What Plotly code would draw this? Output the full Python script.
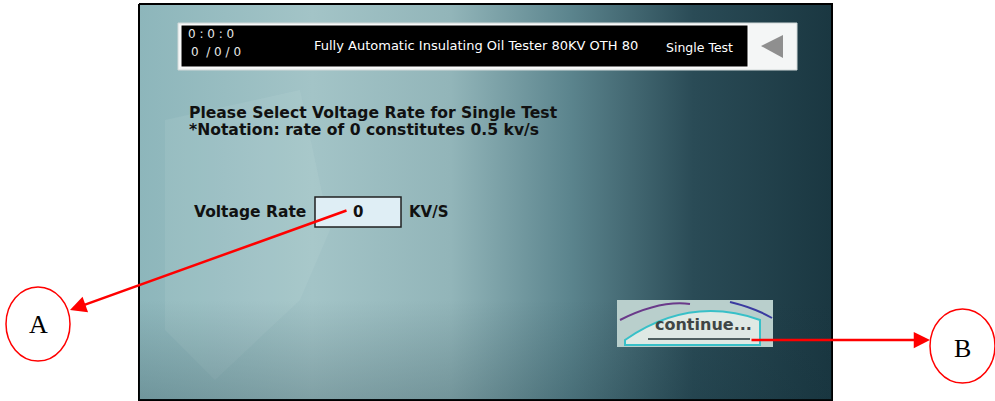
import plotly.graph_objects as go

# ---- content ----
header_left = ["0 : 0 : 0", "0  / 0 / 0"]
header_title = "Fully Automatic Insulating Oil Tester 80KV OTH 80"
header_mode = "Single Test"
prompt_lines = ["Please Select Voltage Rate for Single Test",
                "*Notation: rate of 0 constitutes 0.5 kv/s"]
field_label = "Voltage Rate"
field_value = "0"
field_unit = "KV/S"
button_text = "continue..."
callouts = ["A", "B"]

W, H = 995, 401
fig = go.Figure()

# screen background with horizontal gradient
fig.add_trace(go.Scatter(
    x=[139, 832, 832, 139, 139], y=[4, 4, 400, 400, 4],
    mode="lines", fill="toself", line=dict(color="black", width=2),
    fillgradient=dict(type="horizontal",
                      colorscale=[[0, "#8db6bb"], [0.25, "#a3c4c7"], [0.45, "#92b5b9"],
                                  [0.62, "#5c858e"], [0.8, "#2a4b56"], [1, "#1a3741"]]),
    hoverinfo="skip", showlegend=False))
# lighter wedge on the left
fig.add_trace(go.Scatter(
    x=[165, 300, 330, 300, 215, 165, 165], y=[120, 90, 230, 300, 380, 330, 120],
    mode="lines", fill="toself", line=dict(width=0),
    fillcolor="rgba(220,235,235,0.10)", hoverinfo="skip", showlegend=False))
# dark bottom shading
fig.add_trace(go.Scatter(
    x=[139, 832, 832, 139, 139], y=[300, 300, 400, 400, 300],
    mode="lines", fill="toself", line=dict(width=0),
    fillgradient=dict(type="vertical",
                      colorscale=[[0, "rgba(20,50,60,0.25)"], [1, "rgba(20,50,60,0)"]]),
    hoverinfo="skip", showlegend=False))

shapes = []
# header frame
shapes.append(dict(type="rect", x0=178, y0=23, x1=797, y1=70, fillcolor="#f4f6f6",
                   line=dict(color="#d0d8d8", width=1)))
shapes.append(dict(type="rect", x0=181, y0=25, x1=748, y1=67, fillcolor="black",
                   line=dict(color="white", width=1)))
# back triangle
shapes.append(dict(type="path", path="M 761 46 L 783 35 L 783 58 Z",
                   fillcolor="#8f8f8f", line=dict(width=0)))
# input field
shapes.append(dict(type="rect", x0=315, y0=197, x1=401, y1=227, fillcolor="#dfeef5",
                   line=dict(color="#202020", width=1.5)))
# continue button
shapes.append(dict(type="rect", x0=617, y0=300, x1=773, y1=347, fillcolor="#b9cfcc",
                   line=dict(width=0)))
shapes.append(dict(type="path", path="M 625 340 Q 690 295 760 320 L 760 345 L 625 345 Z",
                   fillcolor="#dfe9e4", line=dict(color="#38c0c8", width=2)))
shapes.append(dict(type="path", path="M 620 320 Q 660 300 690 304", fillcolor="rgba(0,0,0,0)",
                   line=dict(color="#6a3a8a", width=2)))
shapes.append(dict(type="path", path="M 730 302 Q 755 308 772 318", fillcolor="rgba(0,0,0,0)",
                   line=dict(color="#3a3aa0", width=2)))
shapes.append(dict(type="line", x0=648, y0=339, x1=750, y1=339,
                   line=dict(color="#506060", width=2)))
# callout circles
shapes.append(dict(type="circle", x0=6, y0=287, x1=70, y1=361,
                   line=dict(color="#ff0000", width=1.5), fillcolor="white"))
shapes.append(dict(type="circle", x0=930, y0=309, x1=995, y1=383,
                   line=dict(color="#ff0000", width=1.5), fillcolor="white"))

anns = []
def txt(x, y, s, size, color="black", family="DejaVu Sans", xanchor="left", bold=False):
    anns.append(dict(x=x, y=y, text=("<b>%s</b>" % s) if bold else s, showarrow=False,
                     xanchor=xanchor, yanchor="middle",
                     font=dict(size=size, color=color, family=family)))

txt(186, 34, header_left[0], 12, "#e8e8e8")
txt(189, 52, header_left[1], 12, "#e8e8e8")
txt(476, 45, header_title, 13, "white", xanchor="center")
txt(699, 47, header_mode, 12.5, "white", xanchor="center")
txt(187, 113, prompt_lines[0], 15.6, "#111", bold=True)
txt(187, 130, prompt_lines[1], 15.6, "#111", bold=True)
txt(192, 212, field_label, 15.5, "#111", bold=True)
txt(358, 212, field_value, 15, "#111", xanchor="center", bold=True)
txt(407, 212, field_unit, 15, "#111", bold=True)
txt(703, 324, button_text, 16, "#3f4545", xanchor="center", bold=True)
txt(38, 324, callouts[0], 26, "black", family="Liberation Serif", xanchor="center")
txt(962, 348, callouts[1], 26, "black", family="Liberation Serif", xanchor="center")

# red arrows
anns.append(dict(x=70, y=310, ax=348, ay=210, xref="x", yref="y", axref="x", ayref="y",
                 text="", showarrow=True, arrowhead=2, arrowsize=1.3, arrowwidth=2.5,
                 arrowcolor="#ff0000"))
anns.append(dict(x=930, y=340, ax=750, ay=340, xref="x", yref="y", axref="x", ayref="y",
                 text="", showarrow=True, arrowhead=2, arrowsize=1.3, arrowwidth=2.5,
                 arrowcolor="#ff0000"))

fig.update_layout(
    width=W, height=H, margin=dict(l=0, r=0, t=0, b=0),
    paper_bgcolor="white", plot_bgcolor="white",
    xaxis=dict(range=[0, W], visible=False, fixedrange=True),
    yaxis=dict(range=[H, 0], visible=False, fixedrange=True),
    shapes=shapes, annotations=anns, showlegend=False)

fig.write_html("out.html", config={"displayModeBar": False})
with open("out.html", encoding="utf-8") as f:
    html = f.read()
html = html.replace("<head>", "<head><style>html,body{margin:0;padding:0;overflow:hidden;}</style>", 1)
with open("out.html", "w", encoding="utf-8") as f:
    f.write(html)
